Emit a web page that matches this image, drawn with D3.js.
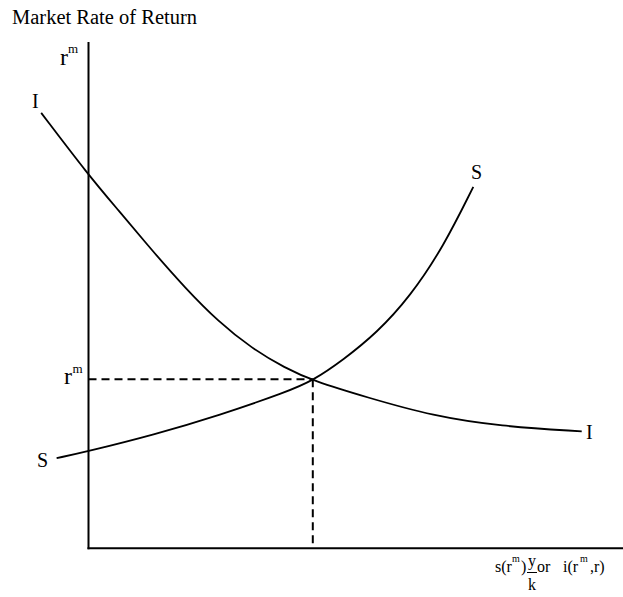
<!DOCTYPE html>
<html>
<head>
<meta charset="utf-8">
<script src="https://cdn.jsdelivr.net/npm/d3@7"></script>
<style>
  body { margin: 0; background: #fff; }
  text { font-family: "Liberation Serif", "Times New Roman", serif; fill: #000; }
</style>
</head>
<body>
<div id="chart"></div>
<script>
// investment schedule I (quantity, rate)
var investQty = [-8.9, 0, 5.6, 11.9, 18.2, 24.4, 30.7, 37.0, 42.2, 52.4, 64.9, 77.4, 92.8];
var investRate = [86.0, 73.7, 66.8, 58.9, 51.4, 44.8, 39.5, 35.6, 33.1, 29.8, 26.1, 24.1, 23.1];

// savings schedule S
var saveQty = [-6.0, 0, 12.2, 24.7, 37.3, 42.2, 47.9, 54.2, 60.5, 66.8, 72.4];
var saveRate = [17.8, 19.2, 22.4, 26.3, 30.9, 33.1, 37.2, 42.5, 49.7, 59.6, 71.4];

// equilibrium point
var eqQty = [42.2];
var eqRate = [33.4];

const width = 623;
const height = 597;

var svg = d3.select('#chart')
  .append('svg')
  .attr('width', width)
  .attr('height', height);

var x = d3.scaleLinear().domain([0, 100]).range([88.5, 620]);
var y = d3.scaleLinear().domain([0, 100]).range([548.3, 42]);

var investData = investQty.map(function (q, i) { return { q: q, r: investRate[i] }; });
var saveData = saveQty.map(function (q, i) { return { q: q, r: saveRate[i] }; });

var line = d3.line()
  .x(d => x(d.q))
  .y(d => y(d.r))
  .curve(d3.curveBasis);

// axes: plain lines, no ticks
svg.append('line')
  .attr('x1', x(0)).attr('x2', x(0))
  .attr('y1', y(100)).attr('y2', y(0) + 1)
  .attr('stroke', '#000').attr('stroke-width', 2);

svg.append('line')
  .attr('x1', x(0) - 1).attr('x2', width)
  .attr('y1', y(0)).attr('y2', y(0))
  .attr('stroke', '#000').attr('stroke-width', 2);

// dashed guides to the equilibrium
svg.append('line')
  .attr('x1', x(0)).attr('x2', x(eqQty[0]))
  .attr('y1', y(eqRate[0])).attr('y2', y(eqRate[0]))
  .attr('stroke', '#000').attr('stroke-width', 2)
  .attr('stroke-dasharray', '8,5');

svg.append('line')
  .attr('x1', x(eqQty[0])).attr('x2', x(eqQty[0]))
  .attr('y1', y(eqRate[0])).attr('y2', y(0))
  .attr('stroke', '#000').attr('stroke-width', 2)
  .attr('stroke-dasharray', '8,5');

svg.append('path')
  .attr('d', line(investData))
  .attr('fill', 'none')
  .attr('stroke', '#000')
  .attr('stroke-width', 1.8);

svg.append('path')
  .attr('d', line(saveData))
  .attr('fill', 'none')
  .attr('stroke', '#000')
  .attr('stroke-width', 1.8);

// labels
function label(tx, ty, str, size) {
  return svg.append('text')
    .attr('x', tx).attr('y', ty)
    .attr('font-size', size)
    .text(str);
}

label(12, 24, 'Market Rate of Return', 20.5);

label(60, 65, 'r', 24);
label(68, 53, 'm', 13);
label(64, 384, 'r', 24);
label(72.5, 373, 'm', 13);

label(32, 108, 'I', 20);
label(586, 439, 'I', 20);
label(37, 467, 'S', 20);
label(471, 179, 'S', 20);

// x axis caption: s(r^m) y/k or i(r^m, r)
label(495, 572, 's(r', 16);
label(512, 562, 'm', 10);
label(521, 572, ')', 16);
label(532, 566, 'y', 16).attr('text-anchor', 'middle');
svg.append('line')
  .attr('x1', 527).attr('x2', 537)
  .attr('y1', 572.5).attr('y2', 572.5)
  .attr('stroke', '#000').attr('stroke-width', 1);
label(532, 590, 'k', 16).attr('text-anchor', 'middle');
label(537, 572, 'or', 16);
label(563, 572, 'i(r', 16);
label(580, 562, 'm', 10);
label(590, 572, ',r)', 16);
</script>
</body>
</html>
